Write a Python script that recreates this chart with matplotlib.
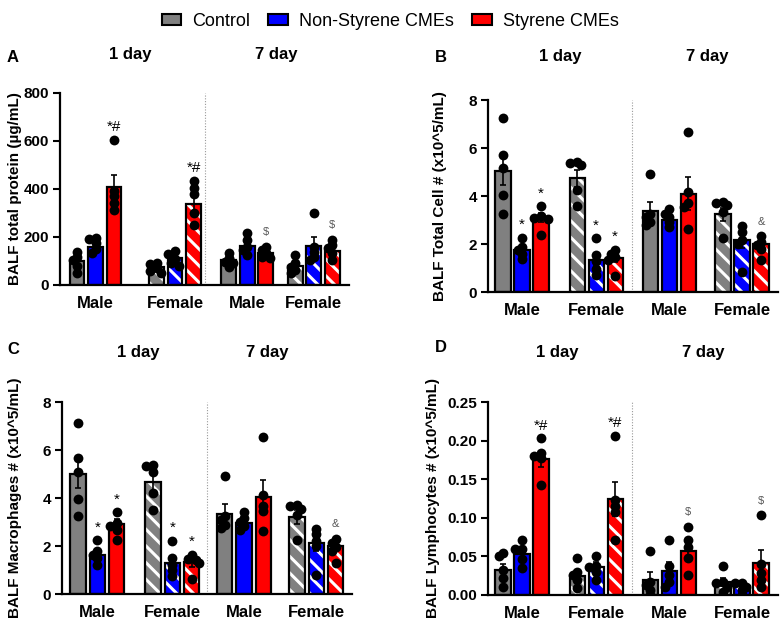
import numpy as np
import matplotlib
matplotlib.use('Agg')
import matplotlib.pyplot as plt
from matplotlib.patches import Patch
from matplotlib.ticker import FormatStrFormatter

plt.rcParams['font.family'] = ['Liberation Sans', 'DejaVu Sans']
plt.rcParams['hatch.linewidth'] = 2.2

treatments = ['Control', 'Non-Styrene CMEs', 'Styrene CMEs']
colors = ['#808080', '#0000ff', '#ff0000']
sexes = ['Male', 'Female', 'Male', 'Female']
days = ['1 day', '7 day']

# bar order: (M 1d: ctl, non, sty), (F 1d), (M 7d), (F 7d)
protein_mean = [101, 160, 410, 76, 111, 338, 104, 163, 132, 80, 163, 142]
protein_sem = [15, 16, 49, 8, 12, 37, 10, 15, 9, 13, 36, 15]
protein_pts = [
    [139, 118, 105, 80, 49], [195, 190, 174, 150, 132], [605, 390, 369, 341, 313],
    [92, 88, 70, 60, 50], [140, 130, 110, 92, 80], [435, 406, 380, 299, 250],
    [132, 111, 97, 90, 77], [218, 188, 160, 146, 125], [160, 146, 132, 118, 111],
    [125, 90, 77, 63, 49], [302, 160, 139, 118, 104], [188, 167, 153, 132, 104],
]
protein_marks = ['', '', '*#', '', '', '*#', '', '', '$', '', '', '$']

cells_mean = [5.04, 1.74, 3.10, 4.73, 1.35, 1.43, 3.38, 2.99, 4.10, 3.24, 2.16, 2.02]
cells_sem = [0.6, 0.15, 0.2, 0.37, 0.22, 0.2, 0.38, 0.15, 0.7, 0.28, 0.33, 0.17]
cells_pts = [
    [7.23, 5.70, 5.15, 4.03, 3.27], [2.27, 1.88, 1.74, 1.60, 1.39], [3.59, 3.15, 3.10, 3.05, 2.39],
    [5.43, 5.38, 5.29, 4.24, 3.59], [2.25, 1.55, 1.30, 0.95, 0.70], [1.77, 1.60, 1.45, 1.35, 0.65],
    [4.90, 3.27, 3.13, 2.92, 2.78], [3.44, 3.27, 3.13, 2.92, 2.71], [6.65, 4.17, 3.69, 3.55, 2.62],
    [3.76, 3.72, 3.62, 3.34, 2.27], [2.74, 2.50, 2.16, 2.02, 0.83], [2.32, 2.09, 1.95, 1.81, 1.32],
]
cells_marks = ['', '*', '*', '', '*', '*', '', '', '', '', '', '&']

macro_mean = [5.0, 1.64, 2.91, 4.66, 1.29, 1.32, 3.34, 2.95, 4.04, 3.20, 2.12, 1.98]
macro_sem = [0.6, 0.15, 0.2, 0.37, 0.25, 0.18, 0.4, 0.15, 0.69, 0.28, 0.33, 0.17]
macro_pts = [
    [7.14, 5.66, 5.08, 3.97, 3.23], [2.23, 1.78, 1.64, 1.50, 1.22], [3.41, 2.95, 2.84, 2.68, 2.26],
    [5.38, 5.34, 5.10, 4.20, 3.51], [2.22, 1.50, 1.22, 1.01, 0.74], [1.64, 1.45, 1.40, 1.30, 0.62],
    [4.90, 3.23, 3.07, 2.88, 2.75], [3.40, 3.16, 3.02, 2.84, 2.68], [6.53, 4.13, 3.65, 3.44, 2.61],
    [3.72, 3.68, 3.54, 3.30, 2.23], [2.72, 2.51, 2.19, 1.98, 0.80], [2.29, 2.12, 1.96, 1.78, 1.29],
]
macro_marks = ['', '*', '*', '', '*', '*', '', '', '', '', '', '&']

lymph_mean = [0.0324, 0.0527, 0.176, 0.025, 0.0367, 0.124, 0.020, 0.0315, 0.0574, 0.0173, 0.0117, 0.041]
lymph_sem = [0.008, 0.007, 0.010, 0.0065, 0.006, 0.022, 0.010, 0.011, 0.008, 0.005, 0.003, 0.017]
lymph_pts = [
    [0.054, 0.050, 0.033, 0.022, 0.010], [0.071, 0.060, 0.059, 0.047, 0.035], [0.203, 0.1835, 0.180, 0.177, 0.142],
    [0.0475, 0.030, 0.026, 0.019, 0.0086], [0.0505, 0.0375, 0.036, 0.030, 0.019], [0.206, 0.123, 0.115, 0.108, 0.071],
    [0.057, 0.017, 0.013, 0.0065, 0.0], [0.071, 0.037, 0.026, 0.017, 0.011], [0.0885, 0.071, 0.0626, 0.0475, 0.026],
    [0.0376, 0.017, 0.015, 0.011, 0.004], [0.016, 0.015, 0.011, 0.0065, 0.0], [0.103, 0.040, 0.028, 0.019, 0.010],
]
lymph_marks = ['', '', '*#', '', '', '*#', '', '', '$', '', '', '$']

W, H = 780, 625


def fx(x):
    return x / W


def fy(y):
    return 1 - y / H


def swarm(ax, x0, vals, d=10.0):
    # small beeswarm in pixel space, dots may overlap a bit
    order = np.argsort(vals)[::-1]
    placed = []
    xs = np.zeros(len(vals))
    px0 = ax.transData.transform((x0, 0))[0]
    for i in order:
        py = ax.transData.transform((x0, vals[i]))[1]
        for off in [0, -4, 4, -7, 7]:
            ok = all((off - po) ** 2 + (py - pp) ** 2 >= (0.5 * d) ** 2 for po, pp in placed)
            if ok:
                break
        placed.append((off, py))
        xs[i] = ax.transData.inverted().transform((px0 + off, py))[0]
    return xs


def panel(rect, starts, xlim, divider, mean, sem, pts, marks, ylim, yticks, ylabel, labx, fmt=None):
    ax = fig.add_axes([fx(rect[0]), fy(rect[3]), fx(rect[2] - rect[0]), (rect[3] - rect[1]) / H])
    ax.set_xlim(*xlim)
    ax.set_ylim(*ylim)
    xpos = []
    for g, s in enumerate(starts):
        for t in range(3):
            xpos.append(s + t)
    for k, x in enumerate(xpos):
        g, t = divmod(k, 3)
        if g % 2 == 1:
            ax.bar(x, mean[k], width=0.8, color=colors[t], edgecolor='white', hatch='\\\\', linewidth=0, zorder=2)
            ax.bar(x, mean[k], width=0.8, fill=False, edgecolor='black', linewidth=1.6, zorder=2.5)
        else:
            ax.bar(x, mean[k], width=0.8, color=colors[t], edgecolor='black', linewidth=1.6, zorder=2)
        ax.errorbar(x, mean[k], yerr=sem[k], fmt='none', ecolor='black', elinewidth=1.2,
                    capsize=2.5, capthick=1.2, zorder=3)
        xs = swarm(ax, x, pts[k])
        ax.scatter(xs, pts[k], s=50, color='black', zorder=4, linewidths=0)
        if marks[k]:
            top = max(max(pts[k]), mean[k] + sem[k])
            if marks[k] in ('$', '&'):
                ax.annotate(marks[k], (x, top), xytext=(0, 7), textcoords='offset points',
                            ha='center', va='bottom', fontsize=8, color='#555555')
            else:
                ax.annotate(marks[k], (x, top), xytext=(0, 4), textcoords='offset points',
                            ha='center', va='bottom', fontsize=11, color='black')
    ax.axvline(divider, color='#999999', linestyle=(0, (1, 1.5)), linewidth=0.8, zorder=1)
    ax.set_yticks(yticks)
    if fmt:
        ax.yaxis.set_major_formatter(FormatStrFormatter(fmt))
    centers = [s + 1 for s in starts]
    ax.set_xticks(centers)
    ax.set_xticklabels(sexes, fontsize=12, fontweight='bold')
    ax.tick_params(axis='x', length=0, pad=8)
    ax.tick_params(axis='y', length=5, width=1.5, labelsize=11, pad=3)
    for lb in ax.get_yticklabels():
        lb.set_fontweight('bold')
    for sp in ['top', 'right']:
        ax.spines[sp].set_visible(False)
    for sp in ['left', 'bottom']:
        ax.spines[sp].set_linewidth(1.6)
    ax.set_ylabel(ylabel, fontsize=11, fontweight='bold')
    ax.yaxis.set_label_coords(labx, 0.5)
    return ax


fig = plt.figure(figsize=(W / 100, H / 100), dpi=100)

panel((60, 93, 349, 285), [0, 4.3, 8.2, 11.8], (-0.92, 14.7), 6.92,
      protein_mean, protein_sem, protein_pts, protein_marks, (0, 800), [0, 200, 400, 600, 800],
      'BALF total protein (µg/mL)', -0.13)
panel((488, 100, 778, 292), [0, 3.9, 7.74, 11.58], (-0.79, 14.47), 6.79,
      cells_mean, cells_sem, cells_pts, cells_marks, (0, 8), [0, 2, 4, 6, 8],
      'BALF Total Cell # (x10^5/mL)', -0.141)
panel((62, 402, 352, 594), [0, 3.89, 7.6, 11.35], (-0.83, 14.2), 6.68,
      macro_mean, macro_sem, macro_pts, macro_marks, (0, 8), [0, 2, 4, 6, 8],
      'BALF Macrophages # (x10^5/mL)', -0.138)
panel((488, 402, 778, 595), [0, 3.9, 7.74, 11.58], (-0.79, 14.47), 6.79,
      lymph_mean, lymph_sem, lymph_pts, lymph_marks, (0, 0.25), [0, 0.05, 0.10, 0.15, 0.20, 0.25],
      'BALF Lymphocytes # (x10^5/mL)', -0.166, fmt='%.2f')

# panel letters and day headers
for letter, x, y in [('A', 7, 58), ('B', 435, 58), ('C', 7, 349), ('D', 435, 348)]:
    fig.text(fx(x), fy(y), letter, fontsize=12, fontweight='bold', ha='left', va='center')
for x1, x7, y in [(130, 276, 55), (560, 707, 57), (138, 267, 352), (557, 703, 352)]:
    fig.text(fx(x1), fy(y), days[0], fontsize=12, fontweight='bold', ha='center', va='center')
    fig.text(fx(x7), fy(y), days[1], fontsize=12, fontweight='bold', ha='center', va='center')

handles = [Patch(facecolor=c, edgecolor='black', linewidth=1.5) for c in colors]
fig.legend(handles, treatments, loc='upper center', bbox_to_anchor=(0.5, 1.0), ncol=3, frameon=False,
           prop={'family': ['Liberation Sans Narrow', 'Liberation Sans'], 'size': 13},
           handlelength=1.1, handleheight=0.55, handletextpad=0.6, columnspacing=1.0,
           borderaxespad=0.3)

fig.savefig('out.png', dpi=100)
